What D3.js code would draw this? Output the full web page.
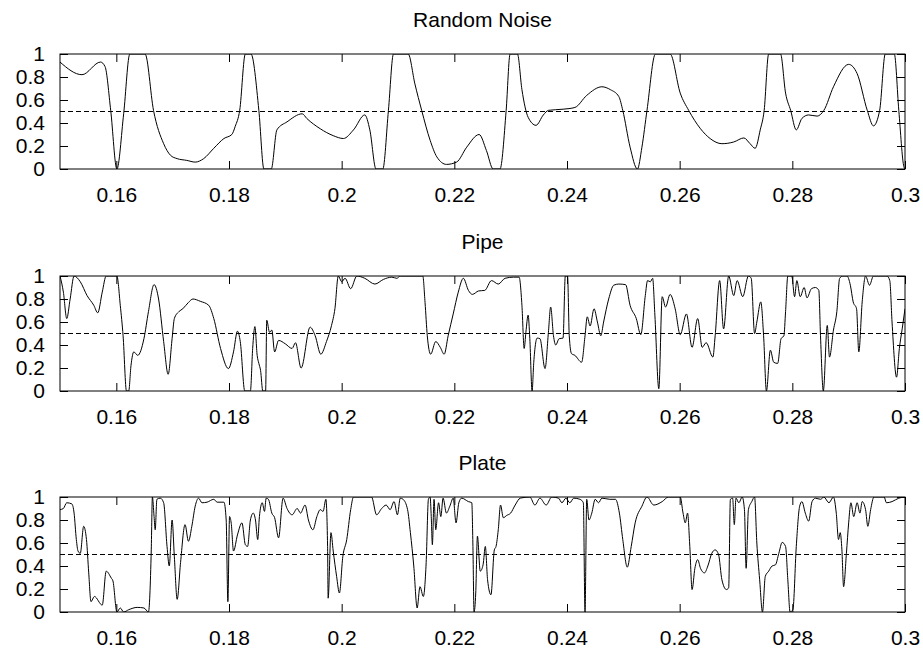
<!DOCTYPE html>
<html>
<head>
<meta charset="utf-8">
<script src="https://cdn.jsdelivr.net/npm/d3@7"></script>
<style>
  body { margin: 0; background: #fff; }
  svg text { font-family: "Liberation Sans", Arial, Helvetica, sans-serif; }
</style>
</head>
<body>
<svg id="chart" width="923" height="650"></svg>
<script>
// panel titles and tick values
var titles = ["Random Noise", "Pipe", "Plate"];
var xTicks = [0.16, 0.18, 0.2, 0.22, 0.24, 0.26, 0.28, 0.3];
var yTicks = [0, 0.2, 0.4, 0.6, 0.8, 1];
var threshold = 0.5;

// values, [x, value]
var noise = [
  [0.15, 0.93], [0.1539, 0.82], [0.1572, 0.93], [0.158, 0.89], [0.159, 0.51], [0.1601, 0.0],
  [0.1613, 0.48], [0.1624, 1], [0.1651, 1], [0.1666, 0.51], [0.1684, 0.22], [0.1696, 0.12],
  [0.1708, 0.09], [0.1725, 0.075], [0.174, 0.06], [0.1755, 0.09], [0.1773, 0.18], [0.1791, 0.265],
  [0.1805, 0.30], [0.1811, 0.37], [0.1819, 0.51], [0.1829, 1], [0.1839, 1], [0.1853, 0.51],
  [0.1862, 0], [0.1875, 0], [0.1885, 0.34], [0.1903, 0.41], [0.193, 0.48], [0.1938, 0.44],
  [0.1962, 0.35], [0.1985, 0.29], [0.2003, 0.265], [0.2021, 0.34], [0.2041, 0.47], [0.205, 0.34],
  [0.2061, 0], [0.2073, 0], [0.2083, 0.51], [0.2092, 1], [0.2118, 1], [0.213, 0.74],
  [0.2142, 0.51], [0.2157, 0.25], [0.2169, 0.105], [0.2186, 0.04], [0.2204, 0.06], [0.2222, 0.19],
  [0.2244, 0.30], [0.2257, 0.16], [0.2269, 0], [0.2281, 0], [0.2292, 0.51], [0.2299, 1],
  [0.2312, 1], [0.232, 0.69], [0.2331, 0.45], [0.2345, 0.38], [0.2358, 0.47], [0.2367, 0.51],
  [0.2393, 0.52], [0.2414, 0.535], [0.2435, 0.64], [0.2462, 0.715], [0.2477, 0.69], [0.2492, 0.63],
  [0.2499, 0.51], [0.2512, 0.19], [0.2525, 0], [0.2533, 0.19], [0.2542, 0.51], [0.2557, 1],
  [0.2583, 1], [0.2601, 0.66], [0.2616, 0.51], [0.2637, 0.35], [0.2654, 0.265], [0.2675, 0.22],
  [0.2696, 0.235], [0.2714, 0.27], [0.2725, 0.22], [0.2734, 0.18], [0.2743, 0.34], [0.275, 0.51],
  [0.2758, 1], [0.2779, 1], [0.2788, 0.66], [0.2797, 0.51], [0.2807, 0.34], [0.2817, 0.44],
  [0.2829, 0.47], [0.2844, 0.46], [0.2856, 0.51], [0.2873, 0.715], [0.29, 0.91], [0.2915, 0.83],
  [0.2933, 0.51], [0.2944, 0.375], [0.2955, 0.51], [0.2965, 1], [0.2981, 1], [0.2989, 0.51],
  [0.2998, 0.02], [0.3, 0]
];

var pipe = [
  [0.15, 1], [0.1506, 0.86], [0.1512, 0.63], [0.1518, 0.80], [0.1525, 1], [0.1536, 0.95],
  [0.1548, 0.83], [0.156, 0.745], [0.1567, 0.68], [0.1575, 0.86], [0.1582, 1], [0.1601, 1],
  [0.1607, 0.745], [0.1612, 0.48], [0.1618, 0], [0.1622, 0], [0.1626, 0.22], [0.1631, 0.34],
  [0.1638, 0.31], [0.1649, 0.455], [0.1657, 0.69], [0.1667, 0.925], [0.1675, 0.80], [0.1684, 0.43],
  [0.1692, 0.145], [0.1699, 0.455], [0.1703, 0.63], [0.1711, 0.69], [0.1718, 0.715], [0.1728, 0.77],
  [0.1736, 0.80], [0.1749, 0.78], [0.1764, 0.745], [0.1773, 0.63], [0.1785, 0.37], [0.1799, 0.195],
  [0.1808, 0.34], [0.1815, 0.52], [0.182, 0.43], [0.1828, 0], [0.1838, 0], [0.1842, 0.37],
  [0.1846, 0.56], [0.185, 0.31], [0.1853, 0.24], [0.1856, 0.18], [0.186, 0], [0.1865, 0],
  [0.1867, 0.615], [0.1872, 0.51], [0.1876, 0.53], [0.1881, 0.34], [0.1888, 0.44], [0.19, 0.41],
  [0.1912, 0.37], [0.1918, 0.42], [0.1928, 0.20], [0.1944, 0.555], [0.1953, 0.48], [0.1963, 0.32],
  [0.1973, 0.43], [0.1982, 0.57], [0.1988, 0.715], [0.1994, 1], [0.2, 0.95], [0.2006, 0.98],
  [0.2016, 0.89], [0.2027, 1], [0.2041, 0.98], [0.2059, 0.93], [0.2074, 0.97], [0.2089, 0.99],
  [0.2098, 0.98], [0.2104, 1], [0.2144, 1], [0.2148, 0.77], [0.2152, 0.48], [0.2158, 0.32],
  [0.2167, 0.43], [0.2175, 0.38], [0.2182, 0.32], [0.2189, 0.48], [0.2198, 0.67], [0.2207, 0.86],
  [0.2216, 0.98], [0.2225, 0.875], [0.2232, 0.84], [0.2243, 0.87], [0.2254, 0.875], [0.2266, 0.96],
  [0.2278, 0.93], [0.229, 0.98], [0.2305, 0.99], [0.2315, 0.99], [0.232, 0.745], [0.2324, 0.37],
  [0.2327, 0.51], [0.2331, 0.66], [0.2334, 0.455], [0.2338, 0], [0.2341, 0.25], [0.2347, 0.46],
  [0.2352, 0.455], [0.2361, 0.195], [0.2367, 0.51], [0.2371, 0.73], [0.2376, 0.48], [0.238, 0.40],
  [0.2386, 0.455], [0.2393, 0.46], [0.2397, 1], [0.2401, 1], [0.2404, 0.48], [0.2408, 0.325],
  [0.2414, 0.31], [0.2426, 0.25], [0.2432, 0.48], [0.2436, 0.645], [0.2441, 0.565], [0.2448, 0.715],
  [0.2454, 0.60], [0.246, 0.48], [0.2465, 0.60], [0.2474, 0.80], [0.2483, 0.92], [0.2492, 0.93],
  [0.2504, 0.925], [0.2512, 0.745], [0.2523, 0.63], [0.2531, 0.49], [0.2539, 0.83], [0.2543, 0.96],
  [0.2548, 0.95], [0.2552, 0.98], [0.2556, 0.66], [0.2563, 0.02], [0.2569, 0.82], [0.2575, 0.73],
  [0.2583, 0.84], [0.2592, 0.715], [0.2601, 0.49], [0.2612, 0.67], [0.2622, 0.38], [0.2632, 0.63],
  [0.264, 0.38], [0.2647, 0.42], [0.2659, 0.295], [0.2663, 0.48], [0.2671, 0.96], [0.2678, 0.54],
  [0.2687, 1], [0.2696, 0.83], [0.2702, 0.96], [0.2712, 0.82], [0.2722, 1], [0.2727, 0.98],
  [0.2733, 0.50], [0.2737, 0.60], [0.2744, 0.775], [0.2749, 0.48], [0.2754, 0], [0.2761, 0.355],
  [0.2767, 0.25], [0.2774, 0.24], [0.278, 0.455], [0.2785, 0.48], [0.2788, 0.69], [0.2792, 1],
  [0.2799, 1], [0.2804, 0.82], [0.2808, 0.96], [0.2814, 0.82], [0.2821, 0.90], [0.2826, 0.81],
  [0.2834, 0.89], [0.2841, 0.90], [0.2847, 0.875], [0.285, 0.48], [0.2855, 0], [0.2862, 0.57],
  [0.2866, 0.295], [0.2873, 0.53], [0.2879, 0.69], [0.2884, 0.98], [0.289, 1], [0.2897, 1],
  [0.2903, 0.92], [0.2908, 0.775], [0.2914, 0.715], [0.2918, 0.34], [0.2924, 0.775], [0.293, 1],
  [0.2937, 0.92], [0.2944, 1], [0.2968, 1], [0.2973, 0.96], [0.2977, 0.60], [0.2985, 0.12],
  [0.299, 0.37], [0.2995, 0.54], [0.3, 0.715]
];

var plate = [
  [0.15, 0.89], [0.1506, 0.90], [0.1512, 0.95], [0.1521, 0.94], [0.1525, 0.86], [0.1529, 0.63],
  [0.1532, 0.53], [0.1536, 0.51], [0.1542, 0.745], [0.1547, 0.63], [0.1551, 0.34], [0.1555, 0.09],
  [0.1561, 0.135], [0.1575, 0.06], [0.1582, 0.355], [0.1591, 0.295], [0.1594, 0.27], [0.1601, 0],
  [0.1607, 0.035], [0.1613, 0], [0.1622, 0.02], [0.1637, 0.04], [0.1649, 0.035], [0.1657, 0],
  [0.1662, 0.54], [0.1664, 1], [0.1667, 0.83], [0.1669, 0.715], [0.1672, 0.98], [0.1678, 0.99],
  [0.1684, 0.95], [0.169, 0.57], [0.1694, 0.40], [0.1699, 0.80], [0.1703, 0.48], [0.1708, 0.11],
  [0.1714, 0.43], [0.1722, 0.76], [0.1728, 0.615], [0.1734, 0.745], [0.174, 0.92], [0.1746, 0.99],
  [0.1752, 0.95], [0.1761, 0.955], [0.1773, 0.98], [0.1779, 0.955], [0.1791, 0.955], [0.1795, 0.80],
  [0.1798, 0.09], [0.1801, 0.83], [0.1804, 0.77], [0.1808, 0.53], [0.1815, 0.67], [0.1823, 0.775],
  [0.1829, 0.585], [0.1833, 0.57], [0.1838, 0.80], [0.1843, 0.86], [0.1847, 0.80], [0.1851, 0.63],
  [0.1854, 0.83], [0.1859, 0.95], [0.1863, 0.875], [0.1866, 0.99], [0.187, 0.98], [0.1876, 0.86],
  [0.1881, 0.82], [0.1888, 0.645], [0.1896, 0.99], [0.1903, 0.90], [0.1912, 0.845], [0.1921, 0.90],
  [0.1927, 0.86], [0.1935, 0.93], [0.1941, 0.80], [0.1949, 0.715], [0.1956, 0.83], [0.1962, 0.89],
  [0.1967, 0.875], [0.1972, 0.98], [0.1975, 0.57], [0.1976, 0.12], [0.1981, 0.69], [0.1985, 0.53],
  [0.1991, 0.31], [0.1996, 0.165], [0.2002, 0.48], [0.2009, 0.63], [0.2016, 0.89], [0.2021, 1],
  [0.2053, 1], [0.2062, 0.845], [0.2071, 0.90], [0.2079, 0.93], [0.2086, 0.89], [0.2093, 0.96],
  [0.2099, 0.845], [0.2104, 0.99], [0.2109, 0.98], [0.2117, 0.89], [0.2122, 0.69], [0.2128, 0.40],
  [0.2134, 0.035], [0.2139, 0.22], [0.2145, 0.135], [0.215, 0.43], [0.2154, 0.98], [0.2157, 1],
  [0.2159, 0.83], [0.2161, 0.585], [0.2164, 0.98], [0.2167, 0.715], [0.2172, 0.95], [0.2176, 0.83],
  [0.218, 0.99], [0.2186, 0.86], [0.2192, 0.92], [0.2198, 0.99], [0.2203, 0.775], [0.2208, 0.95],
  [0.2213, 0.99], [0.2225, 0.96], [0.2231, 0.95], [0.2233, 0.57], [0.2235, 0], [0.2238, 0.165],
  [0.2241, 0.66], [0.2246, 0.355], [0.2251, 0.41], [0.2255, 0.57], [0.2259, 0.28], [0.2265, 0.15],
  [0.2271, 0.54], [0.2274, 0.57], [0.2278, 0.715], [0.2282, 0.93], [0.2287, 0.82], [0.2293, 0.84],
  [0.23, 0.86], [0.2308, 0.93], [0.2317, 0.99], [0.2334, 1], [0.2343, 0.93], [0.2352, 0.99],
  [0.2363, 0.93], [0.2373, 1], [0.2385, 0.99], [0.2391, 0.95], [0.2398, 0.99], [0.2405, 0.95],
  [0.2412, 0.99], [0.2423, 0.98], [0.2429, 0.95], [0.2432, 0], [0.2435, 0.98], [0.2439, 0.80],
  [0.2444, 0.86], [0.245, 0.98], [0.2456, 0.95], [0.2462, 0.99], [0.2476, 0.98], [0.2486, 0.98],
  [0.2493, 0.86], [0.2499, 0.63], [0.2507, 0.39], [0.2514, 0.57], [0.2521, 0.775], [0.2533, 0.92],
  [0.2542, 1], [0.2554, 0.93], [0.2569, 0.96], [0.258, 1], [0.2601, 1], [0.2606, 0.86],
  [0.261, 0.775], [0.2614, 0.86], [0.2618, 0.57], [0.2622, 0.195], [0.2627, 0.38], [0.2632, 0.455],
  [0.2637, 0.38], [0.2644, 0.34], [0.265, 0.40], [0.2657, 0.51], [0.2663, 0.54], [0.2669, 0.50],
  [0.2675, 0.28], [0.2683, 0.195], [0.2687, 0.21], [0.269, 0.98], [0.2694, 0.99], [0.2697, 0.76],
  [0.27, 0.99], [0.2705, 0.95], [0.2711, 1], [0.2715, 0.89], [0.2718, 0.38], [0.2722, 0.89],
  [0.2728, 0.96], [0.2733, 1], [0.2737, 0.60], [0.2742, 0.28], [0.2747, 0], [0.2752, 0.31],
  [0.2758, 0.355], [0.2764, 0.40], [0.277, 0.41], [0.2776, 0.51], [0.2782, 0.605], [0.2788, 0.57],
  [0.2792, 0.28], [0.2796, 0], [0.2801, 0.02], [0.2807, 0.57], [0.2813, 0.92], [0.2817, 0.96],
  [0.2823, 0.86], [0.2829, 0.79], [0.2835, 0.96], [0.2841, 0.99], [0.285, 0.98], [0.2856, 1],
  [0.2865, 0.95], [0.2873, 1], [0.2878, 0.86], [0.2882, 0.63], [0.2885, 0.69], [0.2888, 0.54],
  [0.2891, 0.22], [0.2896, 0.51], [0.29, 0.775], [0.2904, 0.95], [0.2909, 0.83], [0.2915, 0.95],
  [0.292, 0.86], [0.2924, 0.96], [0.293, 0.89], [0.2934, 0.745], [0.2939, 0.89], [0.2945, 1],
  [0.2963, 1], [0.2967, 0.95], [0.2977, 0.96], [0.2989, 0.99], [0.3, 1]
];

var series = [noise, pipe, plate];

// layout
var left = 60, right = 905;
var panelTops = [54, 276, 497];
var panelH = 115;
var tickLen = 8;
var fontSize = 21;

var svg = d3.select("#chart");

var x = d3.scaleLinear().domain([0.15, 0.3]).range([left, right]);

series.forEach(function(data, i) {
    var top = panelTops[i];
    var y = d3.scaleLinear().domain([0, 1]).range([top + panelH, top]);
    var g = svg.append("g").attr("class", "panel");

    // clip so the curve stays inside the frame
    g.append("clipPath").attr("id", "clip" + i)
      .append("rect")
        .attr("x", left).attr("y", top)
        .attr("width", right - left).attr("height", panelH);

    // title
    g.append("text")
        .attr("x", (left + right) / 2)
        .attr("y", top - 27)
        .attr("text-anchor", "middle")
        .attr("font-size", fontSize)
        .text(titles[i]);

    // bottom axis with labels, ticks pointing in
    var bx = g.append("g")
        .attr("transform", "translate(0," + (top + panelH) + ")")
        .call(d3.axisBottom(x).tickValues(xTicks).tickSizeInner(-tickLen).tickSizeOuter(0)
            .tickPadding(18).tickFormat(d3.format("")));
    // top mirror ticks
    var tx = g.append("g")
        .attr("transform", "translate(0," + top + ")")
        .call(d3.axisTop(x).tickValues(xTicks).tickSizeInner(-tickLen).tickSizeOuter(0).tickFormat(""));
    var ly = g.append("g")
        .attr("transform", "translate(" + left + ",0)")
        .call(d3.axisLeft(y).tickValues(yTicks).tickSizeInner(-tickLen).tickSizeOuter(0)
            .tickPadding(15).tickFormat(d3.format("")));
    var ry = g.append("g")
        .attr("transform", "translate(" + right + ",0)")
        .call(d3.axisRight(y).tickValues(yTicks).tickSizeInner(-tickLen).tickSizeOuter(0).tickFormat(""));

    [bx, tx, ly, ry].forEach(function(a) {
        a.select(".domain").remove();
        a.selectAll("line").attr("stroke", "#000");
        a.selectAll("text")
            .attr("fill", "#000")
            .attr("font-size", fontSize)
            .attr("font-family", "'Liberation Sans', Arial, sans-serif");
    });

    // threshold line
    g.append("line")
        .attr("x1", left).attr("x2", right)
        .attr("y1", y(threshold)).attr("y2", y(threshold))
        .attr("stroke", "#000")
        .attr("stroke-width", 1)
        .attr("stroke-dasharray", "5,3");

    var line = d3.line()
        .x(function(d) { return x(d[0]); })
        .y(function(d) { return y(d[1]); })
        .curve(d3.curveMonotoneX);

    g.append("path")
        .datum(data)
        .attr("clip-path", "url(#clip" + i + ")")
        .attr("fill", "none")
        .attr("stroke", "#000")
        .attr("stroke-width", 1)
        .attr("d", line);

    // frame
    g.append("rect")
        .attr("x", left).attr("y", top)
        .attr("width", right - left).attr("height", panelH)
        .attr("fill", "none")
        .attr("stroke", "#000")
        .attr("stroke-width", 1);
});
</script>
</body>
</html>
